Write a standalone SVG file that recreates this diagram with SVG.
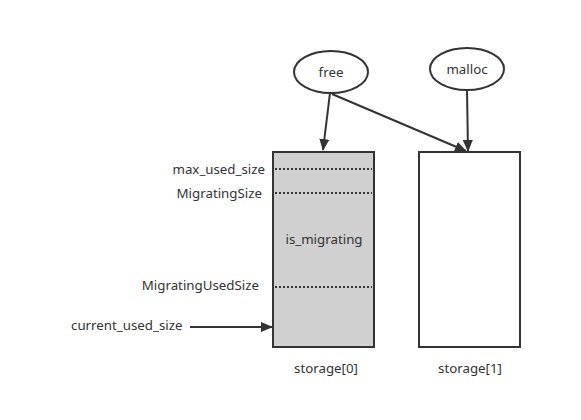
<svg xmlns="http://www.w3.org/2000/svg" width="581" height="420" viewBox="0 0 581 420">
<style>
text{font-family:"Noto Sans","Open Sans","DejaVu Sans",sans-serif;font-size:13.3px;fill:#333}
.node{stroke:#333;stroke-width:2}
.edge{stroke:#333;stroke-width:2;fill:none}
.dot{stroke:#333;stroke-width:2;stroke-dasharray:2 2;fill:none}
</style>
<defs>
<marker id="ah" markerWidth="12" markerHeight="10" refX="11" refY="5" orient="auto" markerUnits="userSpaceOnUse"><path d="M0,0 L12,5 L0,10 z" fill="#333"/></marker>
</defs>
<rect width="581" height="420" fill="#fff"/>
<g id="storage0">
<rect class="node" x="273" y="152" width="101" height="195" fill="#d0d0d0"/>
<line class="dot" x1="275" y1="169" x2="372" y2="169"/>
<line class="dot" x1="275" y1="193" x2="372" y2="193"/>
<line class="dot" x1="275" y1="287" x2="372" y2="287"/>
<text x="324" y="244" text-anchor="middle">is_migrating</text>
<text x="326" y="373" text-anchor="middle">storage[0]</text>
</g>
<g id="storage1">
<rect class="node" x="419" y="152" width="101" height="195" fill="#fff"/>
<text x="470" y="373" text-anchor="middle">storage[1]</text>
</g>
<g id="free">
<ellipse class="node" cx="331" cy="72" rx="37" ry="21" fill="#fff"/>
<text x="331" y="77" text-anchor="middle">free</text>
</g>
<g id="malloc">
<ellipse class="node" cx="467" cy="69" rx="37" ry="21" fill="#fff"/>
<text x="467" y="74" text-anchor="middle">malloc</text>
</g>
<g id="labels">
<text x="265" y="174" text-anchor="end">max_used_size</text>
<text x="262" y="198" text-anchor="end">MigratingSize</text>
<text x="259" y="290" text-anchor="end">MigratingUsedSize</text>
<text x="71" y="330">current_used_size</text>
</g>
<g id="connectors">
<line class="edge" x1="330" y1="93" x2="323" y2="150" marker-end="url(#ah)"/>
<line class="edge" x1="332" y1="94" x2="466" y2="151" marker-end="url(#ah)"/>
<line class="edge" x1="467" y1="90" x2="468" y2="151" marker-end="url(#ah)"/>
<line class="edge" x1="190" y1="327" x2="272" y2="327" marker-end="url(#ah)"/>
</g>
</svg>
